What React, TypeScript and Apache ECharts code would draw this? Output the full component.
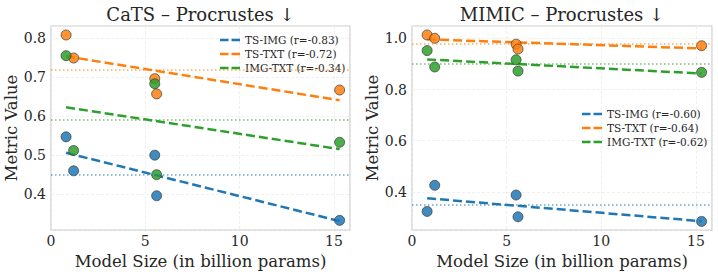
import React, { useEffect, useRef } from 'react';
import * as echarts from 'echarts';

const modelSizes = [0.8, 1.2, 5.5, 5.6, 15.3];
const catsTsImg = [0.547, 0.46, 0.5, 0.396, 0.333];
const catsTsTxt = [0.808, 0.749, 0.696, 0.657, 0.667];
const catsImgTxt = [0.755, 0.512, 0.683, 0.45, 0.533];
const mimicTsImg = [0.324, 0.426, 0.388, 0.303, 0.285];
const mimicTsTxt = [1.013, 1.0, 0.977, 0.958, 0.971];
const mimicImgTxt = [0.952, 0.888, 0.916, 0.872, 0.867];
const catsLegend = ['TS-IMG (r=-0.83)', 'TS-TXT (r=-0.72)', 'IMG-TXT (r=-0.34)'];
const mimicLegend = ['TS-IMG (r=-0.60)', 'TS-TXT (r=-0.64)', 'IMG-TXT (r=-0.62)'];
const panelTitles = ['CaTS – Procrustes ↓', 'MIMIC – Procrustes ↓'];
const colors = ['#1f77b4', '#ff7f0e', '#2ca02c'];

const FONT = 'DejaVu Serif';
const TEXT = '#262626';
const DASH_ICON = 'path://M0,0h8.5v2.6h-8.5z M11.5,0h8.5v2.6h-8.5z';

function fit(xs: number[], ys: number[]) {
  const n = xs.length;
  const mx = xs.reduce((a, b) => a + b, 0) / n;
  const my = ys.reduce((a, b) => a + b, 0) / n;
  let sxy = 0, sxx = 0;
  for (let i = 0; i < n; i++) {
    sxy += (xs[i] - mx) * (ys[i] - my);
    sxx += (xs[i] - mx) * (xs[i] - mx);
  }
  const b = sxy / sxx;
  const a = my - b * mx;
  const x0 = Math.min(...xs), x1 = Math.max(...xs);
  return { line: [[x0, a + b * x0], [x1, a + b * x1]], mean: my };
}

function panelSeries(p: number, sets: number[][], names: string[]) {
  const out: any[] = [];
  sets.forEach((ys, i) => {
    const f = fit(modelSizes, ys);
    out.push({
      type: 'line',
      name: names[i],
      xAxisIndex: p,
      yAxisIndex: p,
      data: f.line,
      symbol: 'none',
      z: 2,
      lineStyle: { color: colors[i], width: 2.5, type: [9, 4] },
      itemStyle: { color: colors[i] },
      markLine: {
        silent: true,
        symbol: 'none',
        label: { show: false },
        lineStyle: { color: colors[i], width: 1.5, type: [1.5, 2.5], opacity: 0.65 },
        data: [{ yAxis: f.mean }],
      },
    });
    out.push({
      type: 'scatter',
      name: 'pts-' + p + '-' + i,
      xAxisIndex: p,
      yAxisIndex: p,
      data: modelSizes.map((x, k) => [x, ys[k]]),
      symbolSize: 10,
      z: 3,
      itemStyle: { color: colors[i], opacity: 0.85, borderColor: '#333333', borderWidth: 0.8 },
    });
  });
  return out;
}

export default function App() {
  const ref = useRef<HTMLDivElement>(null);
  useEffect(() => {
    if (!ref.current) return;
    const chart = echarts.init(ref.current, undefined, { renderer: 'svg' });
    const grids = [
      { left: 51, top: 26, width: 299, height: 206 },
      { left: 412, top: 26, width: 300, height: 206 },
    ];
    const xAxis = [0, 1].map((p) => ({
      type: 'value',
      gridIndex: p,
      min: 0,
      max: 15.85,
      interval: 5,
      name: 'Model Size (in billion params)',
      nameLocation: 'middle',
      nameGap: 18,
      nameTextStyle: { fontFamily: FONT, fontSize: 16.5, color: TEXT, verticalAlign: 'top' },
      axisLine: { show: false },
      axisTick: { show: false },
      axisLabel: {
        fontFamily: FONT,
        fontSize: 14,
        color: TEXT,
        margin: 4,
        formatter: (v: number) => (Math.abs(v - Math.round(v / 5) * 5) < 1e-6 ? String(v) : ''),
      },
      splitLine: { show: true, lineStyle: { color: '#ebebeb', type: [3, 2], width: 0.8 } },
    }));
    const yAxis = [
      { min: 0.308, max: 0.831, splitNumber: 5 },
      { min: 0.251, max: 1.048, splitNumber: 4 },
    ].map((o, p) => ({
      type: 'value',
      gridIndex: p,
      min: o.min,
      max: o.max,
      splitNumber: o.splitNumber,
      name: 'Metric Value',
      nameLocation: 'middle',
      nameGap: 30,
      nameTextStyle: { fontFamily: FONT, fontSize: 16.5, color: TEXT },
      axisLine: { show: false },
      axisTick: { show: false },
      axisLabel: {
        fontFamily: FONT,
        fontSize: 14,
        color: TEXT,
        margin: 5,
        showMinLabel: false,
        showMaxLabel: false,
        formatter: (v: number) => v.toFixed(1),
      },
      splitLine: { show: true, lineStyle: { color: '#ebebeb', type: [3, 2], width: 0.8 } },
    }));
    const legendBase = {
      orient: 'vertical',
      icon: DASH_ICON,
      itemWidth: 20,
      itemHeight: 2.6,
      itemGap: 0,
      padding: 0,
      textStyle: { fontFamily: FONT, fontSize: 10.5, color: TEXT, lineHeight: 14 },
    };
    chart.setOption({
      animation: false,
      backgroundColor: '#ffffff',
      grid: grids.map((g) => ({ ...g, show: true, borderColor: '#cccccc', borderWidth: 1.2, backgroundColor: 'transparent' })),
      xAxis,
      yAxis,
      legend: [
        { ...legendBase, data: catsLegend, left: 220, top: 33 },
        { ...legendBase, data: mimicLegend, left: 582, top: 107 },
      ],
      graphic: panelTitles.map((t, p) => ({
        type: 'text',
        x: grids[p].left + grids[p].width / 2,
        y: 14,
        style: {
          text: t,
          fontFamily: FONT,
          fontSize: 18,
          fill: TEXT,
          align: 'center',
          verticalAlign: 'middle',
          textAlign: 'center',
          textVerticalAlign: 'middle',
        },
      })),
      series: [
        ...panelSeries(0, [catsTsImg, catsTsTxt, catsImgTxt], catsLegend),
        ...panelSeries(1, [mimicTsImg, mimicTsTxt, mimicImgTxt], mimicLegend),
      ],
    });
    return () => chart.dispose();
  }, []);
  return <div ref={ref} style={{ position: 'fixed', left: 0, top: 0, width: 718, height: 275 }} />;
}
